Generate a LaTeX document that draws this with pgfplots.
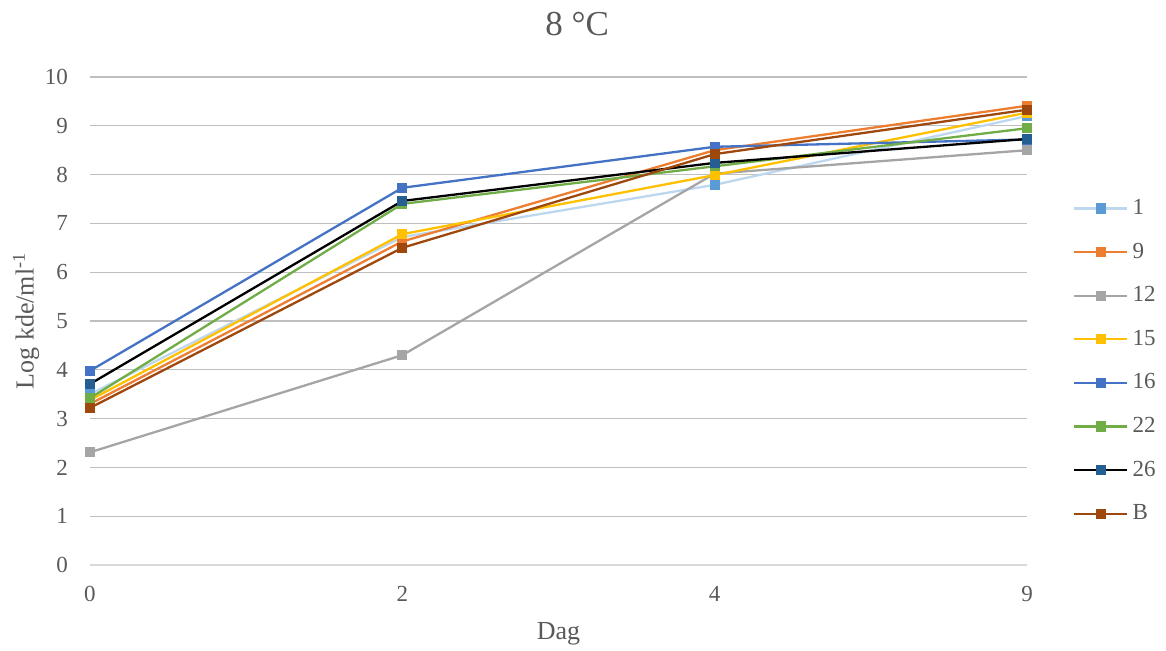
\documentclass[border=0pt]{standalone}
\usepackage{pgfplots}
\pgfplotsset{compat=1.18}
\usepackage{fontspec}
\setmainfont{Liberation Serif}
\definecolor{txt}{HTML}{595959}
\definecolor{grid}{HTML}{D9D9D9}
\definecolor{cA}{HTML}{BDD7EE}
\definecolor{cAm}{HTML}{5B9BD5}
\definecolor{cB}{HTML}{ED7D31}
\definecolor{cC}{HTML}{A5A5A5}
\definecolor{cD}{HTML}{FFC000}
\definecolor{cE}{HTML}{4472C4}
\definecolor{cF}{HTML}{70AD47}
\definecolor{cGm}{HTML}{255E91}
\definecolor{cH}{HTML}{9E480E}
\begin{document}
\begin{tikzpicture}
\useasboundingbox (-45pt,-42.5pt) rectangle (538pt,282.5pt);
\begin{axis}[
  scale only axis, width=468.5pt, height=244pt,
  clip=false,
  xmin=0, xmax=3, ymin=0, ymax=10,
  xtick={0,1,2,3}, xticklabels={0,2,4,9},
  ytick={0,1,...,10},
  xmajorgrids=false, ymajorgrids=true, grid style={grid, line width=0.6pt},
  axis x line*=bottom, axis y line*=left,
  x axis line style={grid, line width=0.8pt, -},
  y axis line style={draw=none},
  major tick length=0pt,
  tick label style={font=\fontsize{11.5}{13}\selectfont, text=txt},
  /pgf/number format/assume math mode=true,
  yticklabel style={xshift=-7.5pt},
  xticklabel style={anchor=base, yshift=-18pt},
  xlabel={Dag}, ylabel={Log kde/ml\textsuperscript{-1}},
  label style={font=\fontsize{13}{15}\selectfont, text=txt},
  xlabel style={at={(axis description cs:0.5,0)}, anchor=base, yshift=-37pt},
  ylabel style={at={(axis description cs:0,0.5)}, anchor=center, yshift=32pt},
  legend style={at={(1.042,0.418)}, anchor=west, draw=none, fill=none,
    font=\fontsize{11.5}{13}\selectfont, text=txt, row sep=8.7pt,
    nodes={inner xsep=2pt}},
  legend image code/.code={
    \draw[mark repeat=2, mark phase=2, #1] plot coordinates {(0cm,0cm) (0.47cm,0cm) (0.94cm,0cm)};},
  legend cell align=left,
  every axis plot/.append style={line width=1.15pt, mark=square*, mark size=2pt},
]
\addplot[cA, mark options={fill=cAm, draw=cAm}] coordinates {(0,3.50) (1,6.72) (2,7.79) (3,9.20)};
\addlegendentry{1}
\addplot[cB, mark options={fill=cB}] coordinates {(0,3.30) (1,6.63) (2,8.50) (3,9.41)};
\addlegendentry{9}
\addplot[cC, mark options={fill=cC}] coordinates {(0,2.31) (1,4.30) (2,8.02) (3,8.50)};
\addlegendentry{12}
\addplot[cD, mark options={fill=cD}] coordinates {(0,3.38) (1,6.78) (2,7.99) (3,9.27)};
\addlegendentry{15}
\addplot[cE, mark options={fill=cE}] coordinates {(0,3.98) (1,7.73) (2,8.57) (3,8.72)};
\addlegendentry{16}
\addplot[cF, mark options={fill=cF}] coordinates {(0,3.42) (1,7.40) (2,8.17) (3,8.95)};
\addlegendentry{22}
\addplot[black, mark options={fill=cGm, draw=cGm}] coordinates {(0,3.71) (1,7.46) (2,8.24) (3,8.73)};
\addlegendentry{26}
\addplot[cH, mark options={fill=cH}] coordinates {(0,3.22) (1,6.50) (2,8.42) (3,9.33)};
\addlegendentry{B}
\node[font=\fontsize{17.5}{20}\selectfont, text=txt, anchor=base] at (rel axis cs:0.52,1) [yshift=21pt] {8 °C};
\end{axis}
\end{tikzpicture}
\end{document}
